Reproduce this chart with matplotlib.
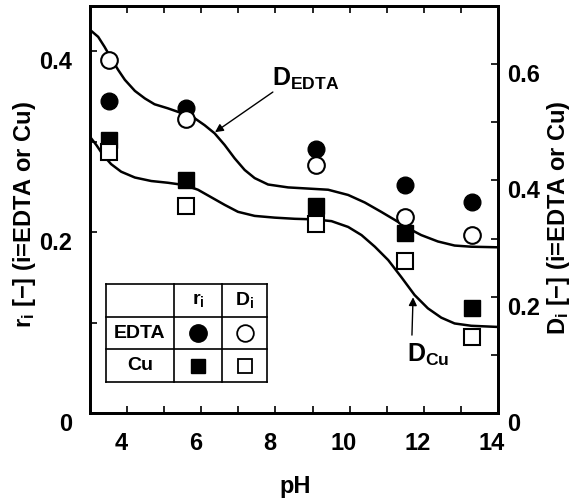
"""Partition ratio r_i and distribution coefficient D_i of EDTA and Cu vs pH."""

import matplotlib

matplotlib.use("Agg")
import matplotlib.pyplot as plt
from matplotlib.ticker import MultipleLocator
from matplotlib.transforms import ScaledTranslation

plt.rcParams["font.family"] = ["Liberation Sans", "DejaVu Sans"]
plt.rcParams["font.weight"] = "bold"
plt.rcParams["mathtext.fontset"] = "custom"
plt.rcParams["mathtext.bf"] = "Liberation Sans:bold"
plt.rcParams["mathtext.rm"] = "Liberation Sans:bold"
plt.rcParams["mathtext.it"] = "Liberation Sans:bold"

# measured points
ph_points = [3.5, 5.6, 9.1, 11.5, 13.3]
r_edta = [0.345, 0.337, 0.292, 0.252, 0.233]
r_cu = [0.302, 0.258, 0.229, 0.199, 0.116]
d_edta = [0.607, 0.506, 0.427, 0.337, 0.306]
d_cu = [0.449, 0.356, 0.325, 0.261, 0.131]

# calculated D curves
ph_curve_edta = [3.00, 3.22, 3.39, 3.57, 3.76, 3.94, 4.21, 4.48, 4.74, 5.10,
                 5.46, 5.82, 6.09, 6.36, 6.63, 6.90, 7.17, 7.44, 7.80, 8.34,
                 8.88, 9.42, 9.96, 10.41, 10.85, 11.22, 11.57, 11.93, 12.38,
                 12.83, 13.28, 14.00]
d_curve_edta = [0.659, 0.647, 0.630, 0.610, 0.590, 0.573, 0.554, 0.541, 0.531,
                0.524, 0.516, 0.507, 0.495, 0.481, 0.461, 0.438, 0.418, 0.404,
                0.393, 0.388, 0.386, 0.384, 0.375, 0.362, 0.346, 0.332, 0.318,
                0.306, 0.295, 0.288, 0.286, 0.285]
ph_curve_cu = [3.00, 3.17, 3.35, 3.57, 3.84, 4.21, 4.65, 5.10, 5.55, 5.91,
               6.27, 6.63, 6.99, 7.44, 7.98, 8.52, 9.06, 9.51, 9.96, 10.32,
               10.68, 11.04, 11.39, 11.75, 12.11, 12.47, 12.83, 13.28, 14.00]
d_curve_cu = [0.475, 0.461, 0.444, 0.428, 0.415, 0.405, 0.399, 0.396, 0.392,
              0.384, 0.371, 0.358, 0.346, 0.339, 0.336, 0.334, 0.333, 0.330,
              0.320, 0.306, 0.286, 0.263, 0.234, 0.203, 0.180, 0.164, 0.154,
              0.150, 0.148]

x_ticks = [4, 6, 8, 10, 12, 14]
left_ticks = [0, 0.2, 0.4]
left_labels = ["0", "0.2", "0.4"]
right_ticks = [0, 0.2, 0.4, 0.6]
right_labels = ["0", "0.2", "0.4", "0.6"]

FS = 17
LW = 1.8

fig = plt.figure(figsize=(5.71, 5.0), dpi=100)
ax = fig.add_axes([90 / 571, 1 - 413 / 500, 408 / 571, 407 / 500])
ax2 = ax.twinx()

ax.set_xlim(3, 14)
ax.set_ylim(0, 0.45)
ax2.set_ylim(0, 0.7)

ax.set_xticks(x_ticks)
ax.xaxis.set_minor_locator(MultipleLocator(1))
ax.set_yticks(left_ticks, left_labels)
ax.yaxis.set_minor_locator(MultipleLocator(0.1))
ax2.set_yticks(right_ticks, right_labels)
ax2.yaxis.set_minor_locator(MultipleLocator(0.1))

ax.tick_params(axis="x", which="both", direction="in", top=True,
               length=5, width=1.2, pad=14, labelsize=FS)
ax.tick_params(axis="y", which="both", direction="in", length=5,
               width=1.2, pad=13, labelsize=FS)
ax2.tick_params(axis="y", which="both", direction="in", length=5,
                width=1.2, pad=6.5, labelsize=FS)
for a in (ax, ax2):
    for spine in a.spines.values():
        spine.set_linewidth(2)

# tick labels sit a little off their ticks in the original
down = ScaledTranslation(0, -9 / 100, fig.dpi_scale_trans)
left = ScaledTranslation(-6 / 100, 0, fig.dpi_scale_trans)
for lbl in ax.get_yticklabels() + ax2.get_yticklabels():
    lbl.set_transform(lbl.get_transform() + down)
for lbl in ax.get_xticklabels():
    lbl.set_transform(lbl.get_transform() + left)

# curves and points
ax2.plot(ph_curve_edta, d_curve_edta, color="black", lw=LW, zorder=2,
         solid_joinstyle="round")
ax2.plot(ph_curve_cu, d_curve_cu, color="black", lw=LW, zorder=2,
         solid_joinstyle="round")

ax.plot(ph_points, r_edta, "o", ms=12, mfc="black", mec="black", ls="none",
        zorder=3)
ax.plot(ph_points, r_cu, "s", ms=12, mfc="black", mec="black", ls="none",
        zorder=3)
ax2.plot(ph_points, d_edta, "o", ms=12, mfc="white", mec="black", mew=1.5,
         ls="none", zorder=4)
ax2.plot(ph_points, d_cu, "s", ms=12, mfc="white", mec="black", mew=1.5,
         ls="none", zorder=4)

# curve labels
ax2.text(7.91, 0.562, r"$\mathbf{D}_{\mathbf{EDTA}}$", fontsize=18,
         ha="left", va="baseline")
ax2.annotate("", xy=(6.37, 0.483), xytext=(7.93, 0.552),
             arrowprops=dict(arrowstyle="-|>", color="black", lw=1,
                             mutation_scale=12, shrinkA=0, shrinkB=0))
ax2.text(11.55, 0.088, r"$\mathbf{D}_{\mathbf{Cu}}$", fontsize=18,
         ha="left", va="baseline")
ax2.annotate("", xy=(11.71, 0.199), xytext=(11.68, 0.134),
             arrowprops=dict(arrowstyle="-|>", color="black", lw=1,
                             mutation_scale=12, shrinkA=0, shrinkB=0))

# symbol key table (axes fraction layout)
tx = [0.039, 0.206, 0.324, 0.434]
ty = [0.076, 0.157, 0.236, 0.317]
tkw = dict(transform=ax2.transAxes, color="black", lw=1.2, zorder=5,
           clip_on=False)
for x in tx:
    ax2.plot([x, x], [ty[0], ty[-1]], **tkw)
for y in ty:
    ax2.plot([tx[0], tx[-1]], [y, y], **tkw)
cx = [(tx[i] + tx[i + 1]) / 2 for i in range(3)]
cy = [(ty[i] + ty[i + 1]) / 2 for i in range(3)]
ax2.text(cx[1], cy[2], r"$\mathbf{r}_\mathbf{i}$", fontsize=14, ha="center",
         va="center", transform=ax2.transAxes)
ax2.text(cx[2], cy[2], r"$\mathbf{D}_\mathbf{i}$", fontsize=14, ha="center",
         va="center", transform=ax2.transAxes)
ax2.text(cx[0], cy[1], "EDTA", fontsize=14, ha="center", va="center",
         transform=ax2.transAxes)
ax2.text(cx[0], cy[0], "Cu", fontsize=14, ha="center", va="center",
         transform=ax2.transAxes)
mkw = dict(transform=ax2.transAxes, mec="black", ls="none", zorder=6,
           clip_on=False)
ax2.plot([cx[1]], [cy[1]], "o", ms=12.5, mfc="black", **mkw)
ax2.plot([cx[2]], [cy[1]], "o", ms=12, mfc="white", mew=1.3, **mkw)
ax2.plot([cx[1]], [cy[0]], "s", ms=10.5, mfc="black", **mkw)
ax2.plot([cx[2]], [cy[0]], "s", ms=10, mfc="white", mew=1.3, **mkw)

# axis titles
fig.text(25 / 571, 1 - 215 / 500, r"$\mathbf{r}_\mathbf{i}$ [−] (i=EDTA or Cu)",
         fontsize=FS, rotation=90, ha="center", va="center")
fig.text(559 / 571, 1 - 218 / 500, r"$\mathbf{D}_\mathbf{i}$ [−] (i=EDTA or Cu)",
         fontsize=FS, rotation=90, ha="center", va="center")
fig.text(295 / 571, 1 - 486 / 500, "pH", fontsize=FS, ha="center",
         va="center")

fig.savefig("out.png", dpi=100, facecolor="white")
plt.close(fig)
